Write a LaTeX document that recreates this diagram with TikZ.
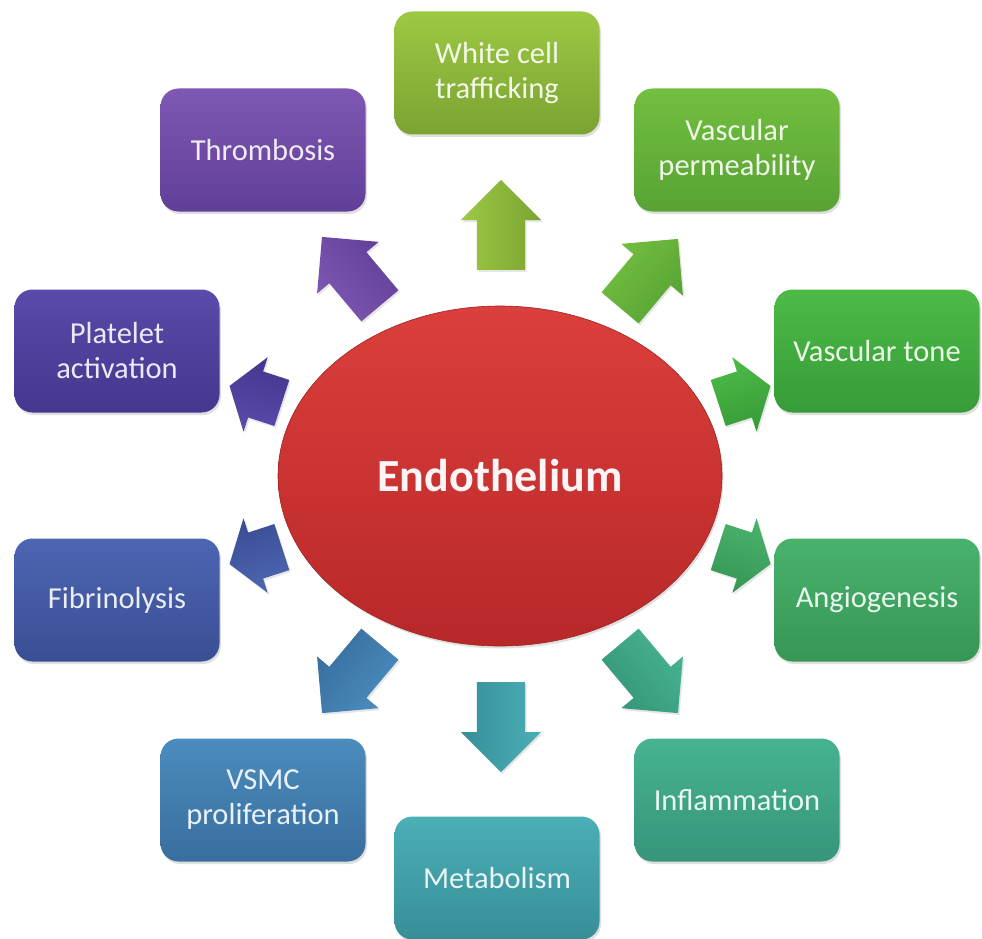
\documentclass[tikz,border=0pt]{standalone}
\usepackage{fontspec}
\setmainfont{Carlito}
\usetikzlibrary{shapes,arrows,shadings,shadows}
\definecolor{wctA}{HTML}{9DC843}   \definecolor{wctB}{HTML}{7BA332}
\definecolor{permA}{HTML}{72BF40}  \definecolor{permB}{HTML}{58A334}
\definecolor{toneA}{HTML}{4DBA46}  \definecolor{toneB}{HTML}{379C38}
\definecolor{angioA}{HTML}{48B26C} \definecolor{angioB}{HTML}{379655}
\definecolor{inflA}{HTML}{46B391}  \definecolor{inflB}{HTML}{36957A}
\definecolor{metabA}{HTML}{4BAFB6} \definecolor{metabB}{HTML}{378E98}
\definecolor{vsmcA}{HTML}{4B8CBE}  \definecolor{vsmcB}{HTML}{386E9E}
\definecolor{fibA}{HTML}{4D66B2}   \definecolor{fibB}{HTML}{3A4E94}
\definecolor{platA}{HTML}{5A4AAA}  \definecolor{platB}{HTML}{45368E}
\definecolor{thrA}{HTML}{7E58B2}   \definecolor{thrB}{HTML}{613F98}
\definecolor{endoA}{HTML}{DB3F3B}  \definecolor{endoB}{HTML}{B82829}
\tikzstyle{block} = [rectangle, rounded corners=18pt,
    minimum width=205pt, minimum height=123pt, align=center,
    font=\fontsize{30.5}{35}\selectfont,
    drop shadow={opacity=0.25, shadow xshift=1.5pt, shadow yshift=-2.5pt}]
\tikzstyle{bigarrow} = [single arrow, anchor=tail, inner xsep=0pt, inner ysep=24pt,
    minimum height=90pt,
    single arrow head extend=16pt, single arrow tip angle=90,
    drop shadow={opacity=0.2, shadow xshift=1.5pt, shadow yshift=-2pt}]
\tikzstyle{shortarrow} = [bigarrow, minimum height=55pt,
    single arrow head extend=15pt, single arrow tip angle=110]
\tikzset{paint/.style 2 args={top color=#1, bottom color=#2, text=white!88!#1}}

\begin{document}
\begin{tikzpicture}[x=1pt, y=-1pt]
    \useasboundingbox (0,0) rectangle (982,939);
    % We start by placing the centre
    \node [ellipse, minimum width=444pt, minimum height=340pt,
        top color=endoA, bottom color=endoB, draw=endoB!85!black, line width=0.6pt,
        text=white!95!endoA, font=\bfseries\fontsize{46}{52}\selectfont,
        drop shadow={opacity=0.25, shadow xshift=1.5pt, shadow yshift=-2.5pt}]
        (endo) at (500,476) {Endothelium};

    % Then the blocks around it, clockwise from the top
    \node [block, paint={wctA}{wctB}] (wct) at (497,73) {White cell\\trafficking};
    \node [block, paint={permA}{permB}] (perm) at (737,150) {Vascular\\permeability};
    \node [block, paint={toneA}{toneB}] (tone) at (877,351) {Vascular tone};
    \node [block, paint={angioA}{angioB}] (angio) at (877,600) {Angiogenesis};
    \node [block, paint={inflA}{inflB}] (infl) at (737,800) {Inflammation};
    \node [block, paint={metabA}{metabB}] (metab) at (497,878) {Metabolism};
    \node [block, paint={vsmcA}{vsmcB}] (vsmc) at (263,800) {VSMC\\proliferation};
    \node [block, paint={fibA}{fibB}] (fibrin) at (117,600) {Fibrinolysis};
    \node [block, paint={platA}{platB}] (plat) at (117,351) {Platelet\\activation};
    \node [block, paint={thrA}{thrB}] (thromb) at (263,150) {Thrombosis};

    % The fat arrows start just off the centre, one for each block.
    % The shading is turned with the arrow so that it stays light at the top.
    \node [bigarrow, rotate=90, top color=wctA, bottom color=wctB, shading angle=90] (a-wct) at (501,270) {};
    \node [bigarrow, rotate=50, top color=permA, bottom color=permB, shading angle=50] (a-perm) at (620,308) {};
    \node [shortarrow, rotate=18, top color=toneA, bottom color=toneB, shading angle=18] (a-tone) at (718,403) {};
    \node [shortarrow, rotate=-18, top color=angioA, bottom color=angioB, shading angle=-18] (a-angio) at (718,547) {};
    \node [bigarrow, rotate=-50, top color=inflA, bottom color=inflB, shading angle=-50] (a-infl) at (620,644) {};
    \node [bigarrow, rotate=-90, top color=metabA, bottom color=metabB, shading angle=-90] (a-metab) at (501,682) {};
    \node [bigarrow, rotate=-130, top color=vsmcA, bottom color=vsmcB, shading angle=-130] (a-vsmc) at (380,644) {};
    \node [shortarrow, rotate=198, top color=fibA, bottom color=fibB, shading angle=198] (a-fibrin) at (282,547) {};
    \node [shortarrow, rotate=162, top color=platA, bottom color=platB, shading angle=162] (a-plat) at (282,403) {};
    \node [bigarrow, rotate=130, top color=thrA, bottom color=thrB, shading angle=130] (a-thromb) at (380,306) {};
\end{tikzpicture}
\end{document}
